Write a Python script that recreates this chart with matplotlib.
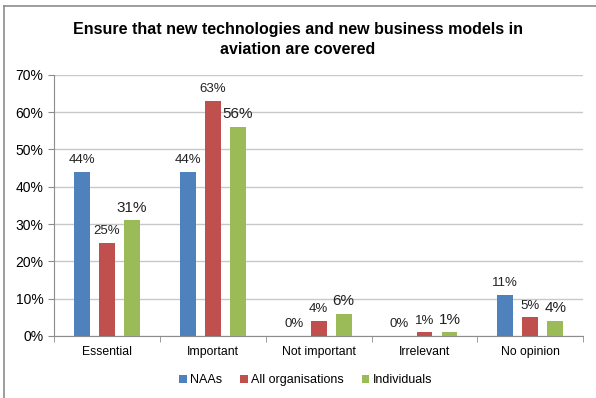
import matplotlib.pyplot as plt
import numpy as np
from matplotlib.lines import Line2D

plt.rcParams['font.family'] = ['Liberation Sans', 'DejaVu Sans']
narrow = ['Liberation Sans Narrow', 'Liberation Sans', 'DejaVu Sans']

categories = ['Essential', 'Important', 'Not important', 'Irrelevant', 'No opinion']
naas = [44, 44, 0, 0, 11]
organisations = [25, 63, 4, 1, 5]
individuals = [31, 56, 6, 1, 4]

colors = ['#4F81BD', '#C0504D', '#9BBB59']
width = 0.15
offsets = [-0.236, 0, 0.236]

fig = plt.figure(figsize=(5.96, 3.98), dpi=100)
ax = fig.add_axes([0.0906, 0.156, 0.888, 0.656])

# frame edges (top and left only)
fig.lines.append(Line2D([0.007, 1.0], [0.985, 0.985], transform=fig.transFigure,
                        color='#8c8c8c', lw=1.2))
fig.lines.append(Line2D([0.007, 0.007], [0.0, 0.985], transform=fig.transFigure,
                        color='#8c8c8c', lw=1.2))

x = np.arange(len(categories))
series = [('NAAs', naas), ('All organisations', organisations), ('Individuals', individuals)]
for (name, vals), off, c in zip(series, offsets, colors):
    bars = ax.bar(x + off, vals, width, color=c, label=name, zorder=3)
    big = name == 'Individuals'
    for b, v in zip(bars, vals):
        ax.text(b.get_x() + b.get_width() / 2, v + 1.5, f'{v}%', ha='center', va='bottom',
                fontsize=11 if big else 9.5, color='#222222',
                family=None if big else narrow)

ax.set_ylim(0, 70)
ax.set_xlim(-0.5, 4.5)
ax.set_yticks(range(0, 71, 10))
ax.set_yticklabels([f'{t}%' for t in range(0, 71, 10)], fontsize=10)
ax.set_xticks(x)
ax.set_xticklabels(categories, fontsize=8.8)
ax.tick_params(axis='x', length=0, pad=7)
ax.set_xticks(np.arange(-0.5, 5, 1), minor=True)
ax.tick_params(axis='x', which='minor', length=4, color='#8c8c8c')
ax.tick_params(axis='y', length=4, color='#8c8c8c')
ax.grid(axis='y', color='#c8c8c8', lw=1, zorder=0)
for s in ['top', 'right']:
    ax.spines[s].set_visible(False)
ax.spines['left'].set_color('#8c8c8c')
ax.spines['bottom'].set_color('#8c8c8c')

fig.text(0.5, 0.9, 'Ensure that new technologies and new business models in\naviation are covered',
         ha='center', va='center', fontsize=11.5, fontweight='bold', linespacing=1.45,
         family=narrow)

fig.legend(loc='center', bbox_to_anchor=(0.513, 0.045), ncol=3, frameon=False,
           handlelength=0.6, handleheight=0.6, handletextpad=0.3, columnspacing=1.4,
           prop={'size': 9})

plt.savefig('out.png', dpi=100)
